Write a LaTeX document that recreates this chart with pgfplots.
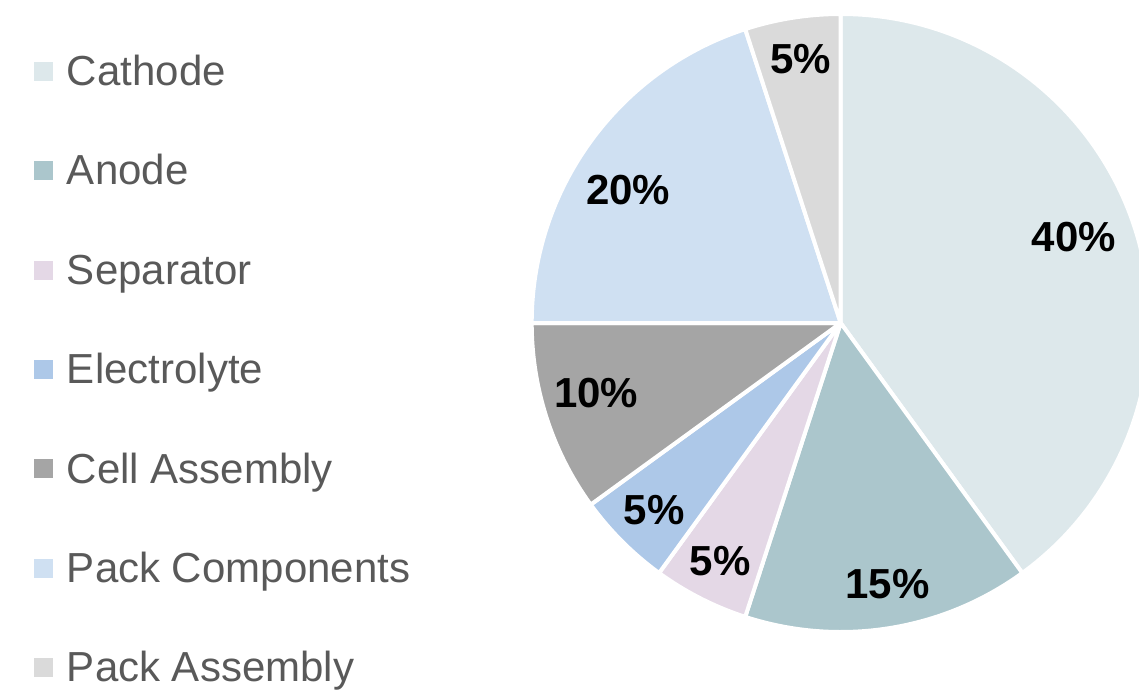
\documentclass[border=0pt]{standalone}
\usepackage{fontspec}
\setmainfont{Liberation Sans}
\usepackage{pgfplots}
\usepackage{pgfplotstable}
\pgfplotsset{compat=1.18}

\definecolor{cathode}{RGB}{221,232,235}
\definecolor{anode}{RGB}{171,198,204}
\definecolor{separator}{RGB}{228,216,230}
\definecolor{electrolyte}{RGB}{173,200,232}
\definecolor{cellasm}{RGB}{165,165,165}
\definecolor{packcomp}{RGB}{207,224,242}
\definecolor{packasm}{RGB}{218,218,218}
\definecolor{legtext}{RGB}{89,89,89}

% share of cost in percent, clockwise from 12 o'clock;
% lx, ly: where the label sits (axis units)
\pgfplotstableread{
share colour      lx     ly
40    cathode     1074   456
15    anode       887.5  108.7
5     separator   720    131.5
5     electrolyte 654    183
10    cellasm     596.3  299.5
20    packcomp    628.3  502.5
5     packasm     800.8  633.7
}\costs

\pgfplotsset{
  sq legend/.style={legend image code/.code={\fill[##1, draw=none] (0pt,-5.25pt) rectangle (9.5pt,4.25pt);}},
}
\tikzset{pct/.style={font=\fontsize{21}{25}\selectfont\bfseries, text=black,
  inner sep=0pt, text height=15pt, text depth=0pt}}

\begin{document}
\begin{tikzpicture}
\begin{axis}[
  hide axis,
  x=0.5pt, y=0.5pt,
  xmin=0, xmax=1139, ymin=0, ymax=692,
  legend style={at={(0.02985,0.92052)}, anchor=north west,
    draw=none, fill=none, inner sep=0pt, outer sep=0pt,
    row sep=34.7pt, column sep=7pt,
    font=\fontsize{21}{25}\selectfont, text=legtext,
    nodes={inner sep=0pt, text height=15.04pt, text depth=0pt}},
  legend cell align=left,
]
\pgfplotstablegetrowsof{\costs}
\pgfmathtruncatemacro\nrows{\pgfplotsretval-1}
\def\angA{90}
\pgfplotsforeachungrouped \i in {0,...,\nrows}{
  \pgfplotstablegetelem{\i}{share}\of\costs \let\sh\pgfplotsretval
  \pgfplotstablegetelem{\i}{colour}\of\costs \let\col\pgfplotsretval
  \pgfplotstablegetelem{\i}{lx}\of\costs \let\lx\pgfplotsretval
  \pgfplotstablegetelem{\i}{ly}\of\costs \let\ly\pgfplotsretval
  \pgfmathsetmacro\angB{\angA-3.6*\sh}
  \edef\temp{%
    \noexpand\fill[\col, draw=white, line width=2pt, line join=round] (axis cs:840.7,369) -- ++(\angA:154.5pt)
      arc[start angle=\angA, end angle=\angB, radius=154.5pt] -- cycle;
    \noexpand\node[pct] at (axis cs:\lx,\ly) {\sh\%};
  }%
  \temp
  \let\angA\angB
}
\addlegendimage{sq legend, fill=cathode}\addlegendentry{Cathode}
\addlegendimage{sq legend, fill=anode}\addlegendentry{Anode}
\addlegendimage{sq legend, fill=separator}\addlegendentry{Separator}
\addlegendimage{sq legend, fill=electrolyte}\addlegendentry{Electrolyte}
\addlegendimage{sq legend, fill=cellasm}\addlegendentry{Cell Assembly}
\addlegendimage{sq legend, fill=packcomp}\addlegendentry{Pack Components}
\addlegendimage{sq legend, fill=packasm}\addlegendentry{Pack Assembly}
\end{axis}
\pgfresetboundingbox
\path (current axis.south west) rectangle (current axis.north east);
\end{tikzpicture}
\end{document}
